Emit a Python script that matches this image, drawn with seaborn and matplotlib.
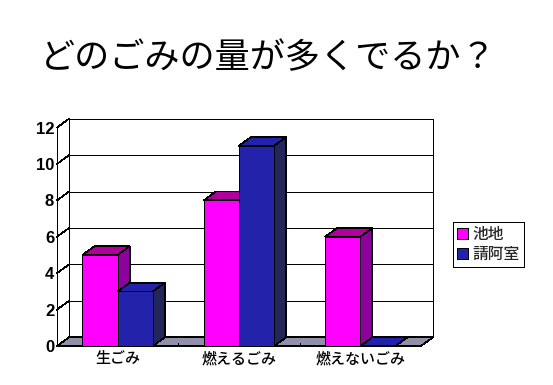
"""どのごみの量が多くでるか: fake-3D clustered bars."""

import matplotlib.pyplot as plt
import pandas as pd
import seaborn as sns
from matplotlib.patches import Polygon, Rectangle

CATEGORIES = ["生ごみ", "燃えるごみ", "燃えないごみ"]
SERIES = ["池地", "請阿室"]
IKECHI = [5, 8, 6]
SEIASHITSU = [3, 11, 0]
Y_TICKS = [0, 2, 4, 6, 8, 10, 12]
TITLE = "どのごみの量が多くでるか？"

W, H = 553, 385
LEFT, RIGHT, BOTTOM, TOP = 57, 421, 346, 127.5
LW = 0.5

FRONT = {"池地": "#ff00ff", "請阿室": "#2222aa"}
TOP_FACE = {"池地": "#b0009c", "請阿室": "#2222aa"}
SIDE = {"池地": "#8e009e", "請阿室": "#232658"}
FLOOR = "#9090a8"

sns.set_theme(style="white")
plt.rcParams["font.family"] = ["Noto Sans CJK JP", "DejaVu Sans"]
plt.rcParams["patch.antialiased"] = False
plt.rcParams["lines.antialiased"] = False

df = pd.DataFrame(
    {
        "cat": CATEGORIES * 2,
        "series": [SERIES[0]] * 3 + [SERIES[1]] * 3,
        "value": IKECHI + SEIASHITSU,
    }
)

fig = plt.figure(figsize=(W / 100, H / 100), dpi=100, facecolor="white")
ax = fig.add_axes([LEFT / W, 1 - BOTTOM / H, (RIGHT - LEFT) / W, (BOTTOM - TOP) / H])
sns.barplot(
    data=df, x="cat", y="value", hue="series", hue_order=SERIES, palette=FRONT,
    width=0.58, gap=0, saturation=1, dodge=True, legend=False, ax=ax,
)
ax.set_xlim(-0.5, 2.5)
ax.set_ylim(0, 12)
ax.patch.set_visible(False)
for s in ax.spines.values():
    s.set_visible(False)

# depth of the fake 3D box, in data units
dx = 12 / ((RIGHT - LEFT) / 3)
dy = 8.7 / ((BOTTOM - TOP) / 12)
x0, x1 = -0.5, 2.5
line = dict(color="black", lw=LW, clip_on=False, solid_capstyle="projecting")


def poly(points, face, z):
    ax.add_patch(Polygon(points, closed=True, facecolor=face, edgecolor="black",
                         lw=LW, clip_on=False, zorder=z, joinstyle="miter", antialiased=False))


# back wall, floor and gridlines
ax.add_patch(Rectangle((x0 + dx, dy), x1 - x0, 12, facecolor="white", edgecolor="black",
                       lw=LW, clip_on=False, zorder=0.5, antialiased=False))
poly([(x0, 0), (x1, 0), (x1 + dx, dy), (x0 + dx, dy)], FLOOR, 0.6)
for t in Y_TICKS:
    ax.plot([x0, x0 + dx], [t, t + dy], zorder=0.7, **line)
    if 0 < t < 12:
        ax.plot([x0 + dx, x1 + dx], [t + dy, t + dy], zorder=0.7, **line)
ax.plot([x0, x0], [0, 12], zorder=0.7, **line)
ax.plot([x0, x1], [0, 0], zorder=0.7, **line)
for t in [0.5, 1.5]:
    ax.plot([t, t], [0, dy * 0.35], zorder=0.7, **line)

# bars come from seaborn; give each one a top and a side
bars = [b for b in ax.patches if isinstance(b, Rectangle) and b.get_width() < 0.5]
bars = sorted(bars, key=lambda b: b.get_x())
for i, b in enumerate(bars):
    name = SERIES[i % 2]
    xa, xb, h = b.get_x(), b.get_x() + b.get_width(), b.get_height()
    z = 2 + i
    poly([(xa, h), (xb, h), (xb + dx, h + dy), (xa + dx, h + dy)], TOP_FACE[name], z)
    if h > 0:
        poly([(xb, 0), (xb + dx, dy), (xb + dx, h + dy), (xb, h)], SIDE[name], z)
        b.set_edgecolor("black")
        b.set_linewidth(LW)
        b.set_antialiased(False)
        b.set_zorder(z + 0.1)
    else:
        b.set_visible(False)

ax.set_xlabel("")
ax.set_ylabel("")
ax.set_yticks(Y_TICKS)
ax.set_yticklabels([str(t) for t in Y_TICKS], fontsize=12, color="black",
                   family=["Liberation Sans", "DejaVu Sans"], fontweight="bold")
ax.set_xticks(range(3))
ax.set_xticklabels(CATEGORIES, fontsize=10.8, color="black", fontweight="medium")
ax.tick_params(axis="both", length=0)
ax.tick_params(axis="y", pad=2)
ax.tick_params(axis="x", pad=3)

fig.text(268.5 / W, 1 - 58 / H, TITLE, fontsize=25.3, color="black", ha="center", va="center")

# legend box
handles = [Rectangle((0, 0), 1, 1, facecolor=FRONT[s], edgecolor="black", lw=LW, antialiased=False)
           for s in SERIES]
leg = fig.legend(
    handles, SERIES, loc="center", bbox_to_anchor=(488.5 / W, 1 - 244.5 / H), fontsize=11.3,
    frameon=True, fancybox=False, edgecolor="black", framealpha=1, handlelength=0.7,
    handleheight=0.7, handletextpad=0.25, borderpad=0.25, labelspacing=0.2,
    borderaxespad=0,
)
leg.get_frame().set_linewidth(LW)
for txt in leg.get_texts():
    txt.set_fontweight("medium")

fig.savefig("out.png", dpi=100)
